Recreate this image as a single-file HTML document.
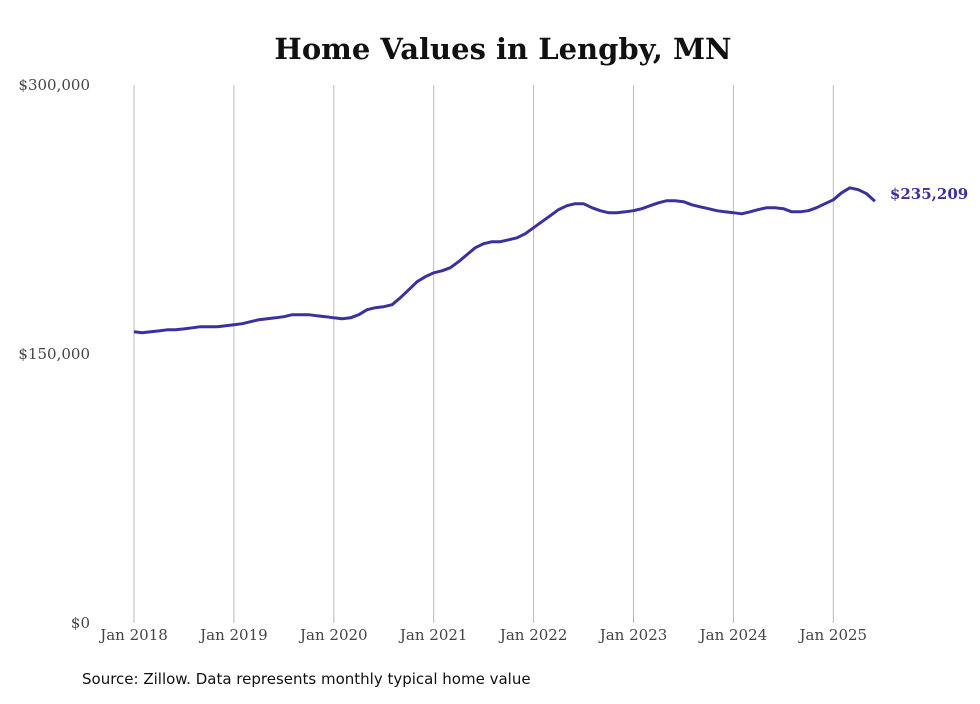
<!DOCTYPE html>
<html><head><meta charset="utf-8">
<style>
html,body{margin:0;padding:0;background:#fff;}
body{width:980px;height:699px;overflow:hidden;}
</style></head>
<body>
<svg id="chart" width="980" height="699" xmlns="http://www.w3.org/2000/svg">
<text x="503" y="59" text-anchor="middle" font-family="'DejaVu Serif',serif" font-weight="bold" font-size="29" fill="#111">Home Values in Lengby, MN</text>
<g id="grid"></g>
<g id="yticks"></g>
<g id="xticks"></g>
<path id="line" fill="none" stroke="#3a31a0" stroke-width="3" stroke-linejoin="round"/>
<text id="endlabel" font-family="'DejaVu Serif',serif" font-weight="bold" font-size="15" fill="#3a31a0"></text>
<text x="82" y="684" font-family="'DejaVu Sans',sans-serif" font-size="15" fill="#111">Source: Zillow. Data represents monthly typical home value</text>
</svg>
<script>
const yTickValues=[0,150000,300000];
const yTickLabels=["$0","$150,000","$300,000"];
const xTickYears=[2018,2019,2020,2021,2022,2023,2024,2025];
const xTickLabels=["Jan 2018","Jan 2019","Jan 2020","Jan 2021","Jan 2022","Jan 2023","Jan 2024","Jan 2025"];
const startYear=2018;
const values=[162.4,161.8,162.4,162.9,163.5,163.5,164.0,164.6,165.2,165.2,165.2,165.7,166.3,166.9,168.0,169.1,169.7,170.2,170.8,171.9,171.9,171.9,171.3,170.8,170.2,169.7,170.2,171.9,174.7,175.8,176.4,177.5,181.4,185.8,190.3,193.1,195.3,196.4,198.1,201.5,205.4,209.3,211.5,212.6,212.6,213.7,214.8,217.1,220.4,223.8,227.1,230.5,232.7,233.8,233.8,231.6,229.9,228.8,228.8,229.3,229.9,231.0,232.7,234.3,235.5,235.5,234.9,233.2,232.1,231.0,229.9,229.3,228.8,228.2,229.3,230.5,231.6,231.6,231.0,229.3,229.3,229.9,231.6,233.8,236.0,239.9,242.7,241.6,239.4,235.2];
const lastLabel="$235,209";
const X0=134,PXY=99.9,Y0=623,PXV=538/300000;
const xs=m=>X0+m*PXY/12;
const ys=v=>Y0-v*PXV;
const ns="http://www.w3.org/2000/svg";
const grid=document.getElementById('grid'),xt=document.getElementById('xticks'),yt=document.getElementById('yticks');
xTickYears.forEach((yr,i)=>{
  const x=xs((yr-startYear)*12);
  const l=document.createElementNS(ns,'line');
  l.setAttribute('x1',x);l.setAttribute('x2',x);l.setAttribute('y1',85);l.setAttribute('y2',Y0);
  l.setAttribute('stroke','#bbb');l.setAttribute('stroke-width','1');
  
  
  grid.appendChild(l);
  const t=document.createElementNS(ns,'text');
  t.setAttribute('x',x);t.setAttribute('y',640);t.setAttribute('text-anchor','middle');
  t.setAttribute('font-family',"'DejaVu Serif',serif");t.setAttribute('font-size','15');t.setAttribute('fill','#444');
  t.textContent=xTickLabels[i];
  
  
  xt.appendChild(t);
});
yTickValues.forEach((v,i)=>{
  const t=document.createElementNS(ns,'text');
  t.setAttribute('x',90);t.setAttribute('y',ys(v)+5);t.setAttribute('text-anchor','end');
  t.setAttribute('font-family',"'DejaVu Serif',serif");t.setAttribute('font-size','15');t.setAttribute('fill','#444');
  t.textContent=yTickLabels[i];
  
  
  yt.appendChild(t);
});
document.getElementById('line').setAttribute('d',values.map((v,i)=>(i?'L':'M')+xs(i).toFixed(1)+','+ys(v*1000).toFixed(1)).join(''));
const n=values.length-1,el=document.getElementById('endlabel');
el.setAttribute('x',xs(n)+15);el.setAttribute('y',ys(values[n]*1000)-2);el.textContent=lastLabel;
</script>
</body></html>
